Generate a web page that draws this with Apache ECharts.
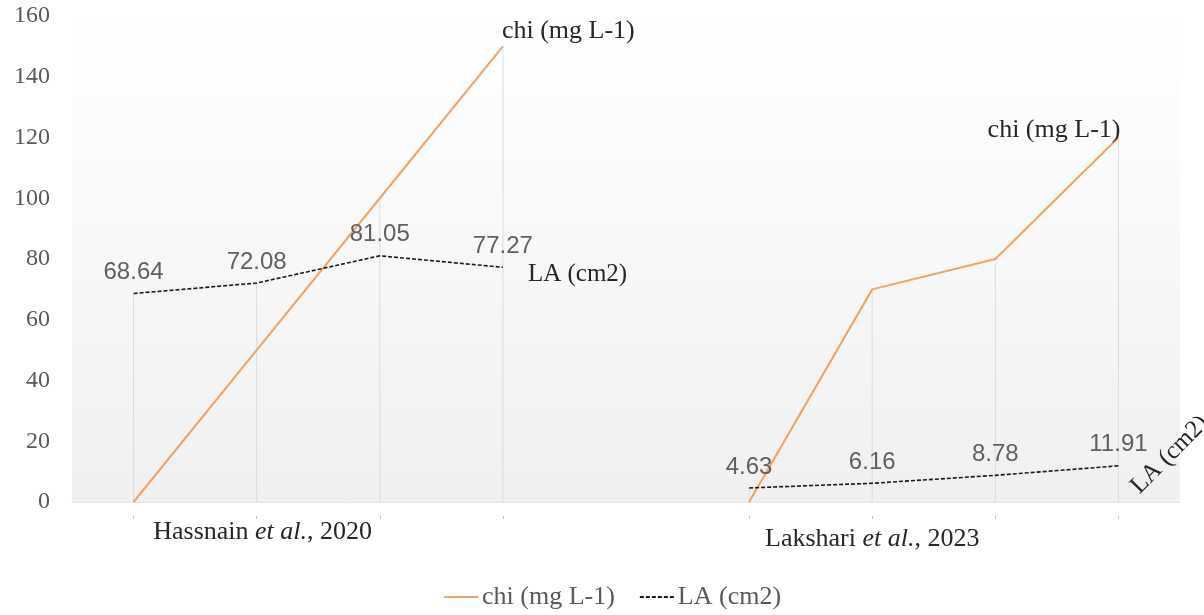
<!DOCTYPE html>
<html>
<head>
<meta charset="utf-8">
<script src="https://cdn.jsdelivr.net/npm/echarts@6/dist/echarts.min.js"></script>
<style>
  html, body { margin: 0; padding: 0; background: #fff; }
  #main { width: 1204px; height: 615px; }
</style>
</head>
<body>
<div id="main"></div>
<script>
// categories (index 4 is the empty gap between the two studies)
const categories = ['', 'Hassnain et al., 2020', '', '', '', '', 'Lakshari et al., 2023', '', ''];
const chiValues = [0, 50, 100, 150, null, 0, 70, 80, 120];
const laValues = [68.64, 72.08, 81.05, 77.27, null, 4.63, 6.16, 8.78, 11.91];
const yTicks = [0, 20, 40, 60, 80, 100, 120, 140, 160];

const serif = '"Liberation Serif", "Times New Roman", serif';
const sans = '"Liberation Sans", Arial, sans-serif';

// drop lines go from the highest point at each category down to the axis
const dropValues = chiValues.map((v, i) => (v === null ? null : Math.max(v, laValues[i])));

const chiData = chiValues.map((v, i) => {
  if (i === 3) {
    return { value: v, label: { show: true, position: 'right', align: 'left', offset: [-6, -15] } };
  }
  if (i === 8) {
    return { value: v, label: { show: true, position: 'top', align: 'right', offset: [2, 11] } };
  }
  return v;
});

const chart = echarts.init(document.getElementById('main'));
chart.setOption({
  animation: false,
  grid: {
    left: 72, right: 24, top: 16, bottom: 113,
    show: true,
    borderWidth: 0,
    backgroundColor: new echarts.graphic.LinearGradient(0, 0, 0, 1, [
      { offset: 0, color: '#ffffff' },
      { offset: 0.1, color: '#fefefe' },
      { offset: 1, color: '#f0f0f0' }
    ])
  },
  legend: {
    data: ['chi (mg L-1)', 'LA (cm2)'],
    bottom: 0,
    left: 438,
    itemWidth: 34,
    itemHeight: 10,
    itemGap: 24,
    itemStyle: { opacity: 0 },
    textStyle: { fontFamily: serif, fontSize: 26, color: '#595959', padding: [0, 0, 0, -1] }
  },
  xAxis: [
    {
      type: 'category',
      data: categories,
      boundaryGap: true,
      axisLine: { show: true, lineStyle: { color: '#e4e4e4', width: 1 } },
      axisTick: { show: false },
      axisLabel: {
        interval: 0,
        margin: 17,
        color: '#262626',
        fontFamily: serif,
        fontSize: 26,
        formatter: function (val, idx) {
          if (!val) return '';
          const p = val.split(' et al.');
          const s = idx > 4 ? 'b' : 'a';
          return '{' + s + 'f|' + p[0] + ' }{' + s + 'i|et al.}{' + s + '|' + p[1] + '}';
        },
        rich: {
          af: { fontFamily: serif, fontSize: 26, color: '#262626', padding: [0, 0, 0, 12] },
          a: { fontFamily: serif, fontSize: 26, color: '#262626' },
          ai: { fontStyle: 'italic', fontFamily: serif, fontSize: 26, color: '#262626' },
          bf: { fontFamily: serif, fontSize: 26, color: '#262626', padding: [7, 0, 0, 0] },
          b: { fontFamily: serif, fontSize: 26, color: '#262626', padding: [7, 0, 0, 0] },
          bi: { fontStyle: 'italic', fontFamily: serif, fontSize: 26, color: '#262626', padding: [7, 0, 0, 0] }
        }
      }
    },
    {
      type: 'category',
      data: categories,
      position: 'bottom',
      offset: 14,
      axisLine: { show: false },
      axisTick: {
        show: true,
        alignWithLabel: true,
        length: 3,
        interval: function (i) { return chiValues[i] !== null; },
        lineStyle: { color: '#bfbfbf' }
      },
      axisLabel: { show: false }
    }
  ],
  yAxis: {
    type: 'value',
    min: 0,
    max: 160,
    interval: 20,
    axisLine: { show: false },
    axisTick: { show: false },
    splitLine: { show: false },
    axisLabel: {
      margin: 22,
      color: '#595959',
      fontFamily: serif,
      fontSize: 24,
      customValues: yTicks
    }
  },
  series: [
    {
      name: 'drop',
      type: 'bar',
      data: dropValues,
      barWidth: 1,
      silent: true,
      itemStyle: { color: '#dcdcdc' },
      z: 1
    },
    {
      name: 'chi (mg L-1)',
      type: 'line',
      data: chiData,
      symbol: 'circle',
      symbolSize: 0,
      showSymbol: true,
      connectNulls: false,
      lineStyle: { color: '#F4A263', width: 2 },
      itemStyle: { color: '#F4A263' },
      label: { show: false, formatter: '{a}', fontFamily: serif, fontSize: 26, color: '#262626' },
      z: 3
    },
    {
      name: 'LA (cm2)',
      type: 'line',
      data: laValues,
      symbol: 'circle',
      symbolSize: 0,
      showSymbol: true,
      connectNulls: false,
      lineStyle: { color: '#1a1a1a', width: 1.6, type: [4, 2] },
      itemStyle: { color: '#1a1a1a' },
      label: {
        show: true,
        position: 'top',
        distance: 9,
        fontFamily: sans,
        fontSize: 24,
        color: '#606060'
      },
      markPoint: {
        symbol: 'circle',
        symbolSize: 0,
        silent: true,
        data: [
          {
            coord: [3, laValues[3]],
            label: { show: true, formatter: 'LA (cm2)', position: 'right', offset: [20, 7], fontFamily: serif, fontSize: 25, color: '#262626' }
          },
          {
            coord: [8, laValues[8]],
            label: { show: true, formatter: 'LA (cm2)', position: 'right', rotate: 45, offset: [-9, 25], fontFamily: serif, fontSize: 25, color: '#262626' }
          }
        ]
      },
      z: 3
    }
  ]
});
</script>
</body>
</html>
